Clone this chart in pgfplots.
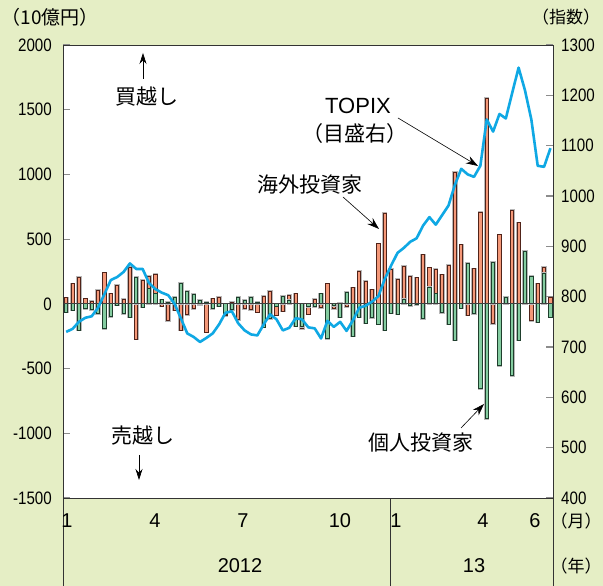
\documentclass[border=0pt]{standalone}
\usepackage{pgfplots}
\pgfplotsset{compat=1.18}
\usepackage{pgfplotstable}
\usepackage{fontspec}
\usetikzlibrary{arrows.meta}
\setmainfont{Liberation Sans}
\newfontfamily\jp{Noto Sans CJK JP}
\newfontfamily\narrow[FakeStretch=0.84]{Liberation Sans}
\definecolor{bg}{RGB}{229,238,197}
\definecolor{obar}{RGB}{244,152,120}
\definecolor{oedge}{RGB}{80,35,25}
\definecolor{gbar}{RGB}{132,204,160}
\definecolor{gedge}{RGB}{30,62,44}
\definecolor{topix}{RGB}{15,168,228}

\pgfplotstableread{
i o g t
0 48 -63 730
1 156 -50 736
2 207 -205 750
3 40 -37 758
4 22 -45 761
5 104 -76 778
6 241 -192 805
7 79 -97 833
8 143 -10 839
9 35 -76 849
10 285 -102 866
11 -274 207 855
12 182 -24 855
13 213 117 827
14 228 79 815
15 -19 32 808
16 -128 10 803
17 -50 53 786
18 -205 161 757
19 -84 97 727
20 -37 73 720
21 -5 27 710
22 -218 14 718
23 40 -37 727
24 53 -19 745
25 -90 -80 768
26 10 -45 771
27 -122 53 747
28 -37 27 733
29 -45 53 725
30 -63 10 723
31 58 -179 745
32 97 -115 765
33 -89 -19 755
34 -55 58 733
35 66 30 738
36 79 -174 757
37 -190 -175 755
38 -80 -20 739
39 35 -20 737
40 -30 79 717
41 156 -270 752
42 -37 -15 740
43 6 -102 750
44 -20 91 732
45 125 -250 753
46 254 -102 778
47 174 -149 782
48 110 -107 790
49 465 -158 801
50 702 -205 835
51 267 -71 862
52 189 -81 887
53 292 35 897
54 213 -12 909
55 202 -5 916
56 379 -116 941
57 280 130 958
58 267 79 943
59 225 -68 962
60 297 -158 981
61 1019 -282 1022
62 457 -33 1054
63 -89 311 1043
64 272 -76 1038
65 710 -656 1060
66 1586 -888 1152
67 -153 323 1128
68 535 -476 1163
69 0 53 1154
70 723 -553 1205
71 627 -282 1255
72 0 406 1210
73 -128 215 1152
74 156 -140 1060
75 284 237 1058
76 47 -102 1095
}\data

\begin{document}
\begin{tikzpicture}[x=1pt,y=1pt]
\useasboundingbox (0,0) rectangle (603,586);
\fill[bg] (0,0) rectangle (603,586);
\fill[white] (63,88) rectangle (553,541);
\begin{axis}[at={(63pt,88pt)}, anchor=south west, scale only axis,
  width=490pt, height=453pt,
  xmin=-0.5, xmax=76.4, ymin=-1500, ymax=2000,
  ytick={-1500,-1000,...,2000}, ytick pos=left, xtick=\empty,
  tick align=inside, major tick length=7pt,
  tick style={black!45, line width=1.2pt},
  axis line style={draw=black!80, line width=0.8pt},
  /pgf/number format/assume math mode=true,
  /pgf/number format/1000 sep={},
  yticklabel style={font=\narrow\fontsize{18}{18}\selectfont, inner sep=0pt, xshift=-11pt},
  clip=false]
\addplot[ybar, bar width=3.2pt, bar shift=0pt, fill=none, draw=black!28, line width=2.2pt] table[x=i,y=o]{\data};
\addplot[ybar, bar width=3.2pt, bar shift=0pt, fill=obar, draw=oedge, line width=0.8pt] table[x=i,y=o]{\data};
\addplot[ybar, bar width=3.2pt, bar shift=0pt, fill=none, draw=black!28, line width=2.2pt] table[x=i,y=g]{\data};
\addplot[ybar, bar width=3.2pt, bar shift=0pt, fill=gbar, draw=gedge, line width=0.8pt] table[x=i,y=g]{\data};
\addplot[black!75, line width=0.9pt] coordinates {(-0.5,0) (76.4,0)};
\end{axis}
\begin{axis}[at={(63pt,88pt)}, anchor=south west, scale only axis,
  width=490pt, height=453pt,
  xmin=-0.5, xmax=76.4, ymin=400, ymax=1300,
  ytick={400,500,...,1300}, ytick pos=right, xtick=\empty,
  tick align=inside, major tick length=7pt,
  tick style={black!45, line width=1.2pt},
  axis line style={draw=black!80, line width=0.8pt},
  /pgf/number format/assume math mode=true,
  /pgf/number format/1000 sep={},
  yticklabel style={font=\narrow\fontsize{18}{18}\selectfont, inner sep=0pt, xshift=8pt}]
\addplot[topix, line width=2.6pt, line join=round] table[x=i,y=t]{\data};
\end{axis}
% bottom band
\draw[black!80, line width=0.8pt] (63,0) -- (63,88) (390,0) -- (390,88) (553,0) -- (553,88);
\begin{scope}[every node/.style={font=\fontsize{20}{20}\selectfont, inner sep=0pt}]
\node at (67,65) {1};
\node at (155,65) {4};
\node at (243,65) {7};
\node at (340,65) {10};
\node at (396,65) {1};
\node at (483,65) {4};
\node at (535,65) {6};
\node at (240,20) {2012};
\node at (474,20) {13};
\end{scope}
\node[font=\jp\fontsize{17}{17}\selectfont, inner sep=0pt] at (576,65) {（月）};
\node[font=\jp\fontsize{17}{17}\selectfont, inner sep=0pt] at (576,20) {（年）};
\node[font=\jp\fontsize{19}{19}\selectfont, inner sep=0pt] at (50,569) {（10億円）};
\node[font=\jp\fontsize{17}{17}\selectfont, inner sep=0pt] at (566,569) {（指数）};
% annotations
\begin{scope}[every node/.style={font=\jp\fontsize{21}{21}\selectfont, inner sep=0pt}]
\node at (147,489) {買越し};
\node at (143,150) {売越し};
\node at (310,401) {海外投資家};
\node at (421,143) {個人投資家};
\node at (355,452) {（目盛右）};
\end{scope}
\node[font=\fontsize{22}{22}\selectfont, inner sep=0pt] at (358,480) {TOPIX};
\draw[black, line width=0.6pt, -{Stealth[length=11pt,width=7pt]}] (143,507) -- (143,533);
\draw[black, line width=0.6pt, -{Stealth[length=11pt,width=7pt]}] (139,131) -- (139,106);
\draw[black, line width=0.6pt, -{Stealth[length=12pt,width=8pt]}] (398,468) -- (478,420);
\draw[black, line width=0.6pt, -{Stealth[length=12pt,width=8pt]}] (343,389) -- (379,357);
\draw[black, line width=0.6pt, -{Stealth[length=12pt,width=8pt]}] (461,158) -- (484,182);
\end{tikzpicture}
\end{document}
